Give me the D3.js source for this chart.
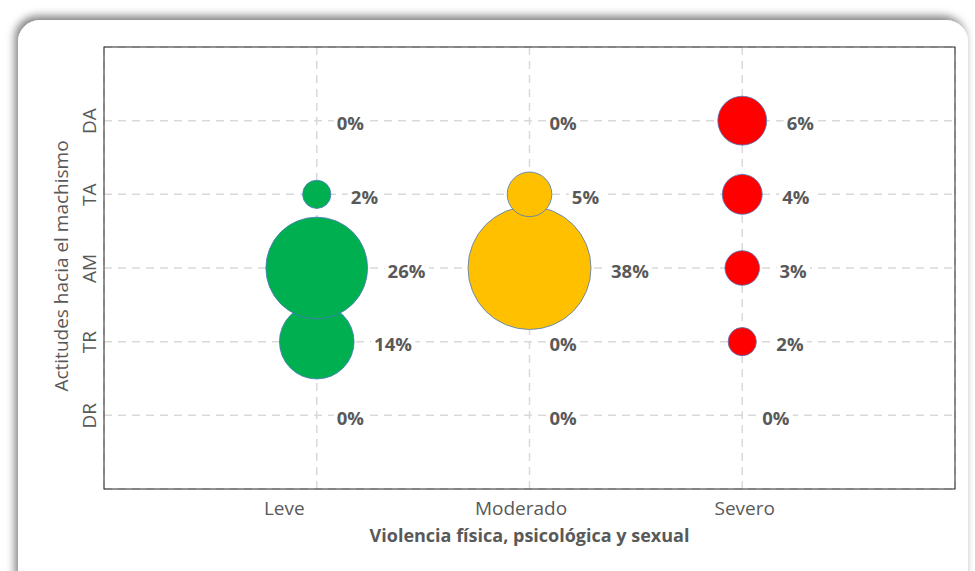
<!DOCTYPE html>
<html><head><meta charset="utf-8">
<script src="https://cdn.jsdelivr.net/npm/d3@7"></script>
<style>body{margin:0;background:#fff;} svg{display:block;}</style>
</head><body>
<svg id="chart" width="975" height="571"></svg>
<script>
const categories = ["Leve", "Moderado", "Severo"];
const attitudes = ["DR", "TR", "AM", "TA", "DA"];
// values per attitude (order DR, TR, AM, TA, DA) for each violence level
const leveValues = [0, 14, 26, 2, 0];
const moderadoValues = [0, 0, 38, 5, 0];
const severoValues = [0, 2, 3, 4, 6];
const seriesColors = ["#00B050", "#FFC000", "#FF0000"];
const xTitle = "Violencia física, psicológica y sexual";
const yTitle = "Actitudes hacia el machismo";

const series = [leveValues, moderadoValues, severoValues];
const data = [];
series.forEach((vals, i) => vals.forEach((v, j) => data.push({cat: categories[i], att: attitudes[j], value: v, color: seriesColors[i]})));

const FONT = "'Open Sans', sans-serif";
const tickLabelShift = [-33, -9, 2];
const svg = d3.select("#chart");
const defs = svg.append("defs");
const f = defs.append("filter").attr("id", "sh").attr("x", "-10%").attr("y", "-10%").attr("width", "120%").attr("height", "120%");
f.append("feDropShadow").attr("dx", -3).attr("dy", -4).attr("stdDeviation", 4.5).attr("flood-color", "#000").attr("flood-opacity", 0.5);

svg.append("rect").attr("x", 18).attr("y", 20).attr("width", 950).attr("height", 580).attr("rx", 22)
  .attr("fill", "#fff").attr("filter", "url(#sh)");

const m = {left: 104, right: 955, top: 47, bottom: 489};
const x = d3.scaleLinear().domain([0, categories.length + 1]).range([m.left, m.right]);
const y = d3.scaleLinear().domain([0, attitudes.length + 1]).range([m.bottom, m.top]);
const xPos = c => x(categories.indexOf(c) + 1);
const yPos = a => y(attitudes.indexOf(a) + 1);
const r = d3.scaleSqrt().domain([0, 38]).range([0, 61.5]);

const grid = svg.append("g").attr("stroke", "#d9d9d9").attr("stroke-width", 1.5).attr("stroke-dasharray", "8,6");
d3.range(0, categories.length + 2).forEach(i => grid.append("line").attr("x1", x(i)).attr("x2", x(i)).attr("y1", m.top).attr("y2", m.bottom));
d3.range(0, attitudes.length + 2).forEach(i => grid.append("line").attr("y1", y(i)).attr("y2", y(i)).attr("x1", m.left).attr("x2", m.right));

svg.append("rect").attr("x", m.left).attr("y", m.top).attr("width", m.right - m.left).attr("height", m.bottom - m.top)
  .attr("fill", "none").attr("stroke", "#262626").attr("stroke-width", 1);

// bubbles
svg.append("g").selectAll("circle").data(data.filter(d => d.value > 0)).join("circle")
  .attr("cx", d => xPos(d.cat)).attr("cy", d => yPos(d.att)).attr("r", d => r(d.value))
  .attr("fill", d => d.color).attr("stroke", "#4a78c2").attr("stroke-width", 0.8);

// labels
const lab = svg.append("g").selectAll("g").data(data).join("g")
  .attr("transform", d => `translate(${xPos(d.cat) + r(d.value) + 20},${yPos(d.att) + 2})`);
lab.append("text").text(d => d.value + "%")
  .attr("font-family", FONT).attr("font-weight", "bold").attr("font-size", 18.5)
  .attr("fill", "#595959").attr("dominant-baseline", "central");
lab.each(function() {
  const g = d3.select(this); const b = g.select("text").node().getBBox();
  g.insert("rect", "text").attr("x", b.x - 3).attr("y", b.y + 3).attr("width", b.width + 6).attr("height", b.height - 6).attr("fill", "#fff");
});

// axes
const xAxis = d3.axisBottom(x).tickValues(categories.map((c, i) => i + 1)).tickFormat(i => categories[i - 1]).tickSize(0).tickPadding(13);
const gx = svg.append("g").attr("transform", `translate(0,${m.bottom})`).call(xAxis);
gx.select(".domain").remove();
gx.selectAll("text").attr("font-family", FONT).attr("font-size", 19).attr("fill", "#595959")
  .attr("dx", (d, i) => tickLabelShift[i]);

const yAxis = d3.axisLeft(y).tickValues(attitudes.map((a, i) => i + 1)).tickFormat(i => attitudes[i - 1]).tickSize(0).tickPadding(0);
const gy = svg.append("g").attr("transform", `translate(${m.left},0)`).call(yAxis);
gy.select(".domain").remove();
gy.selectAll("text").attr("font-family", FONT).attr("font-size", 19).attr("fill", "#595959")
  .attr("transform", "rotate(-90)")
  .attr("x", 0).attr("y", -8).attr("text-anchor", "middle").attr("dy", 0);

svg.append("text").attr("x", (m.left + m.right) / 2).attr("y", 542).attr("text-anchor", "middle")
  .attr("font-family", FONT).attr("font-weight", "bold").attr("font-size", 18).attr("fill", "#595959").text(xTitle);
svg.append("text").attr("transform", `translate(68,${(m.top + m.bottom) / 2 - 2}) rotate(-90)`).attr("text-anchor", "middle")
  .attr("font-family", FONT).attr("font-size", 19).attr("fill", "#595959").text(yTitle);
</script>
</body></html>
